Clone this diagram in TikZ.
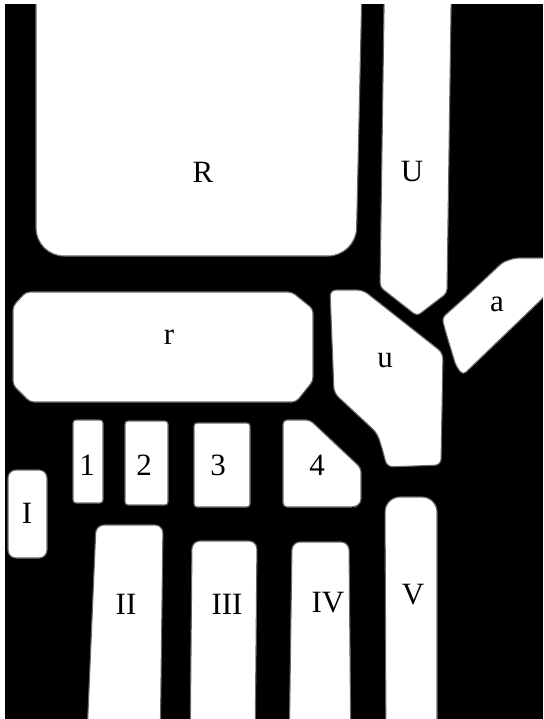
\documentclass[tikz,border=0pt]{standalone}
\usepackage{fontspec}
\setmainfont{Liberation Serif}
\tikzset{
  bone/.style={fill=white, draw={rgb,255:red,105;green,105;blue,105}, line width=1.1pt},
  lbl/.style={font=\fontsize{31}{31}\selectfont, inner sep=0pt, text=black},
}
\begin{document}
\begin{tikzpicture}[x=1pt,y=-1pt]
\useasboundingbox (0,0) rectangle (543,719);
\clip (0,0) rectangle (543,719);
\fill[white] (0,0) rectangle (543,719);
\fill[black] (5,4) rectangle (543,719);
% radius and ulna
\path[bone, rounded corners=28pt] (36,-60) -- (36,256) -- (356,256) -- (363,-60) -- cycle;
\path[bone, rounded corners=4pt] (385,-60) -- (380,287) -- (417,316) -- (447,293) -- (452,-60) -- cycle;
% a
\path[bone, rounded corners=4pt] (442,318) -- (470,293) -- (503,262) -- (515,258) -- (570,258) -- (570,272) -- (463,375) -- (456,366) -- (446,333) -- cycle;
% r
\path[bone, rounded corners=4pt] (13,306) -- (26,292) -- (292,292) -- (313,309) -- (313,381) -- (296,402) -- (30,402) -- (13,385) -- cycle;
% u
\path[bone, rounded corners=6pt] (330,290) -- (363,290) -- (443,353) -- (441,465) -- (387,467) -- (382,448) -- (377,433) -- (334,393) -- cycle;
% carpals
\path[bone, rounded corners=3pt] (73,420) rectangle (103,503);
\path[bone, rounded corners=3pt] (125,421) rectangle (168,505);
\path[bone, rounded corners=3pt] (194,423) rectangle (250,507);
\path[bone, rounded corners=4pt] (283,420) -- (310,420) -- (361,468) -- (361,503) -- (355,507) -- (283,507) -- cycle;
% metacarpals
\path[bone, rounded corners=8pt] (8,470) rectangle (47,558);
\path[bone, rounded corners=8pt] (86,760) -- (96,525) -- (163,525) -- (160,760) -- cycle;
\path[bone, rounded corners=8pt] (190,760) -- (192,541) -- (257,541) -- (255,760) -- cycle;
\path[bone, rounded corners=8pt] (289,760) -- (292,542) -- (349,542) -- (351,760) -- cycle;
\path[bone, rounded corners=15pt] (386,760) -- (385,497) -- (437,497) -- (437,760) -- cycle;
% margins
\fill[white] (0,0) rectangle (543,4);
\fill[white] (0,0) rectangle (5,719);
% labels
\node[lbl] (lR) at (203,172) {R};
\node[lbl] (lU) at (412,172) {U};
\node[lbl] (lr) at (169,337) {r};
\node[lbl] (lu) at (385,361) {u};
\node[lbl] (la) at (497,304) {a};
\node[lbl] (l1) at (87,465) {1};
\node[lbl] (l2) at (144,465) {2};
\node[lbl] (l3) at (218,465) {3};
\node[lbl] (l4) at (317,465) {4};
\node[lbl] (lI) at (27,513) {I};
\node[lbl] (lII) at (126,604) {II};
\node[lbl] (lIII) at (227,604) {III};
\node[lbl] (lIV) at (328,603) {IV};
\node[lbl] (lV) at (413,595) {V};
\end{tikzpicture}
\end{document}
